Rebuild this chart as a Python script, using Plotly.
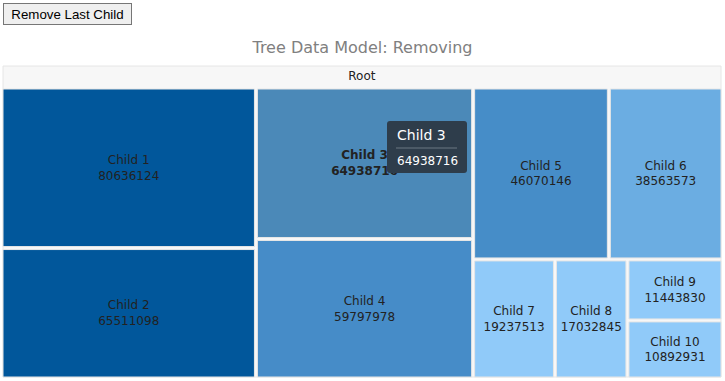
import plotly.graph_objects as go

labels = ["Root", "Child 1", "Child 2", "Child 3", "Child 4", "Child 5",
          "Child 6", "Child 7", "Child 8", "Child 9", "Child 10"]
parents = ["", "Root", "Root", "Root", "Root", "Root",
           "Root", "Root", "Root", "Root", "Root"]
values = [0, 80636124, 65511098, 64938716, 59797978, 46070146,
          38563573, 19237513, 17032845, 11443830, 10892931]
colors = ["#f7f7f7", "#01579b", "#01579b", "#4b89b8", "#468cc8", "#468dc8",
          "#6bade2", "#90caf9", "#90caf9", "#90caf9", "#90caf9"]

W, H = 725, 381
ML, MR, MT, MB = 3, 4, 66, 4
PW, PH = W - ML - MR, H - MT - MB


def px(x):
    return (x - ML) / PW


def py(y):
    return (H - MB - y) / PH


templates = []
for lab in labels:
    if lab == "Root":
        templates.append("%{label}")
    elif lab == "Child 3":
        templates.append("<b>%{label}<br>%{value:.0f}</b>")
    else:
        templates.append("%{label}<br>%{value:.0f}")

fig = go.Figure(go.Treemap(
    labels=labels,
    parents=parents,
    values=values,
    branchvalues="remainder",
    sort=False,
    marker=dict(colors=colors, line=dict(color="#e6e6e6", width=1),
                pad=dict(t=23, l=0, r=0, b=0)),
    texttemplate=templates,
    textposition="middle center",
    textfont=dict(family="DejaVu Sans", size=12, color="#222222"),
    hoverinfo="none",
    pathbar=dict(visible=False),
    root=dict(color="#f7f7f7"),
    tiling=dict(packing="squarify", squarifyratio=1),
))

# tooltip box
x0, x1, y0, y1, r = 387, 467, 121, 173, 3
path = (f"M {px(x0 + r)} {py(y0)} L {px(x1 - r)} {py(y0)} "
        f"Q {px(x1)} {py(y0)} {px(x1)} {py(y0 + r)} L {px(x1)} {py(y1 - r)} "
        f"Q {px(x1)} {py(y1)} {px(x1 - r)} {py(y1)} L {px(x0 + r)} {py(y1)} "
        f"Q {px(x0)} {py(y1)} {px(x0)} {py(y1 - r)} L {px(x0)} {py(y0 + r)} "
        f"Q {px(x0)} {py(y0)} {px(x0 + r)} {py(y0)} Z")
fig.add_shape(type="path", path=path, xref="paper", yref="paper",
              fillcolor="#2e3d4b", line=dict(width=0), layer="above")
fig.add_shape(type="line", xref="paper", yref="paper",
              x0=px(396), x1=px(457), y0=py(148), y1=py(148),
              line=dict(color="#6b7883", width=1), layer="above")
fig.add_annotation(text="Child 3", xref="paper", yref="paper",
                   x=px(395), y=py(135), xanchor="left", yanchor="middle",
                   showarrow=False,
                   font=dict(family="DejaVu Sans", size=14, color="#ffffff"))
fig.add_annotation(text="64938716", xref="paper", yref="paper",
                   x=px(395), y=py(161), xanchor="left", yanchor="middle",
                   showarrow=False,
                   font=dict(family="DejaVu Sans", size=12, color="#ffffff"))

# "Remove Last Child" button
fig.add_annotation(text="Remove Last Child", xref="paper", yref="paper",
                   x=px(3), y=py(3), xanchor="left", yanchor="top",
                   showarrow=False, width=125, height=18,
                   bgcolor="#efefef", bordercolor="#767676", borderwidth=1,
                   borderpad=1,
                   font=dict(family="Arial", size=13.3, color="#000000"))

fig.update_layout(
    width=W, height=H,
    margin=dict(l=ML, r=MR, t=MT, b=MB),
    paper_bgcolor="#ffffff",
    uniformtext=dict(minsize=12, mode="show"),
    title=dict(text="Tree Data Model: Removing", x=0.5, xanchor="center",
               y=1 - 47 / H, yanchor="middle",
               font=dict(family="DejaVu Sans", size=16, color="#808080")),
)

fig.write_html("out.html",
               config={"displayModeBar": False},
               post_script="document.body.style.margin='0';"
                           "document.body.style.padding='0';")
